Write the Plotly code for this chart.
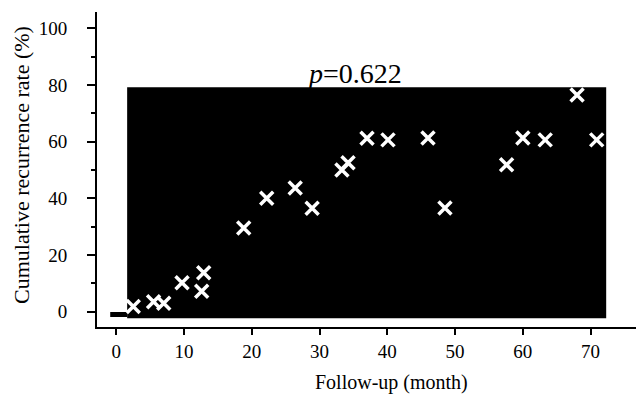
import plotly.graph_objects as go

# Data
x_ticks = [0, 10, 20, 30, 40, 50, 60, 70]
y_ticks = [0, 20, 40, 60, 80, 100]

# filled (blackened) area of the original plot
box_months = [1.6, 72.3]
box_rates = [-2.3, 79.2]

# initial step at 0 %
step_months = [-0.9, 1.6]
step_rates = [-1.0, -1.0]

# censor marks (white crosses)
mark_months = [2.5, 5.5, 7.0, 9.7, 12.9, 12.6, 18.8, 22.2, 26.4, 28.9, 33.3,
               34.2, 37.0, 40.1, 46.0, 48.5, 57.6, 60.0, 63.3, 68.0, 70.9]
mark_rates = [1.8, 3.5, 3.0, 10.2, 13.7, 7.2, 29.5, 40.0, 43.6, 36.5, 50.0,
              52.5, 61.2, 60.6, 61.3, 36.6, 51.8, 61.3, 60.6, 76.4, 60.6]

p_text = "<i>p</i>=0.622"
x_title = "Follow-up (month)"
y_title = "Cumulative recurrence rate (%)"

FONT = "Liberation Serif"

fig = go.Figure()

fig.add_trace(go.Scatter(
    x=[box_months[0], box_months[1], box_months[1], box_months[0], box_months[0]],
    y=[box_rates[0], box_rates[0], box_rates[1], box_rates[1], box_rates[0]],
    mode="lines", fill="toself", fillcolor="black",
    line=dict(color="black", width=0), hoverinfo="skip", showlegend=False))

fig.add_trace(go.Scatter(
    x=step_months, y=step_rates, mode="lines",
    line=dict(color="black", width=5), showlegend=False))

fig.add_trace(go.Scatter(
    x=mark_months, y=mark_rates, mode="markers",
    marker=dict(symbol="x-thin-open", size=13, color="white",
                line=dict(color="white", width=3.5)),
    showlegend=False))

fig.add_annotation(x=35.2, y=78.0, xref="x", yref="y", text=p_text,
                   showarrow=False, yanchor="bottom", xanchor="center",
                   font=dict(family=FONT, size=28, color="black"))

fig.add_annotation(x=(391 - 97) / 539, y=(327 - 382) / 315, xref="paper", yref="paper",
                   text=x_title, showarrow=False, xanchor="center", yanchor="middle",
                   font=dict(family=FONT, size=20, color="black"))
fig.add_annotation(x=(21 - 97) / 539, y=(327 - 165) / 315, xref="paper", yref="paper",
                   text=y_title, showarrow=False, textangle=-90,
                   xanchor="center", yanchor="middle",
                   font=dict(family=FONT, size=22, color="black"))

fig.update_layout(
    width=636, height=396,
    margin=dict(l=97, r=0, t=12, b=69),
    paper_bgcolor="white", plot_bgcolor="white",
    font=dict(family=FONT, size=19, color="black"),
    xaxis=dict(range=[-2.85, 76.7], tickvals=x_ticks, ticks="outside", ticklen=6,
               tickwidth=2, tickcolor="black", showline=True, linecolor="black",
               linewidth=2, showgrid=False, zeroline=False,
               tickfont=dict(family=FONT, size=19), ticklabelstandoff=0),
    yaxis=dict(range=[-5.4, 105.7], tickvals=y_ticks, ticks="outside", ticklen=8,
               tickwidth=2, tickcolor="black", showline=True, linecolor="black",
               linewidth=2, showgrid=False, zeroline=False,
               minor=dict(dtick=10, tick0=10, ticks="outside", ticklen=4,
                          tickwidth=2, tickcolor="black", showgrid=False),
               tickfont=dict(family=FONT, size=19), ticklabelstandoff=16),
)

fig.write_html("out.html",
               config={"displayModeBar": False},
               post_script="document.body.style.margin='0';"
                           "document.body.style.overflow='hidden';")
